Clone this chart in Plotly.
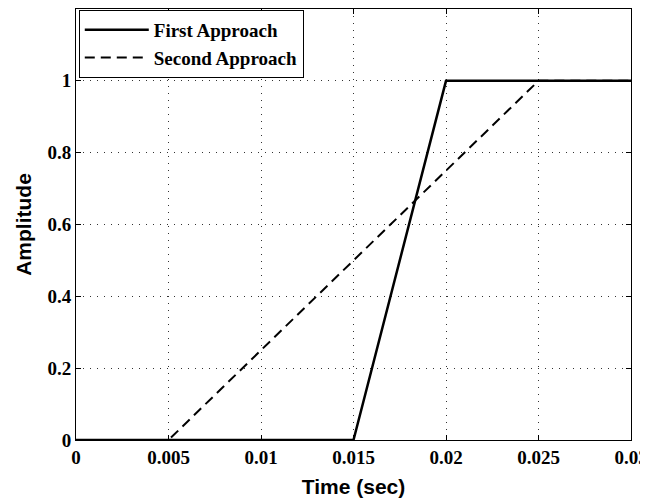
import plotly.graph_objects as go

first_x = [0, 0.015, 0.02, 0.03]
first_y = [0, 0, 1, 1]
second_x = [0, 0.005, 0.025, 0.03]
second_y = [0, 0, 1, 1]
xticks = [0, 0.005, 0.01, 0.015, 0.02, 0.025, 0.03]
xtick_labels = ["0", "0.005", "0.01", "0.015", "0.02", "0.025", "0.03"]
yticks = [0, 0.2, 0.4, 0.6, 0.8, 1]
ytick_labels = ["0", "0.2", "0.4", "0.6", "0.8", "1"]

fig = go.Figure()
fig.add_trace(go.Scatter(x=first_x, y=first_y, mode="lines", name="First Approach",
                         line=dict(color="black", width=2.5)))
fig.add_trace(go.Scatter(x=second_x, y=second_y, mode="lines", name="Second Approach",
                         line=dict(color="black", width=2, dash="10px,6px")))

tickfont = dict(family="Liberation Serif", size=19, color="black", weight="bold")
titlefont = dict(family="Liberation Sans", size=21, color="black", weight="bold")
fig.update_layout(
    width=648, height=500,
    margin=dict(l=68, r=25, t=1, b=68),
    plot_bgcolor="white", paper_bgcolor="white",
    showlegend=True,
    legend=dict(x=0.005, y=0.998, xanchor="left", yanchor="top",
                bgcolor="white", bordercolor="black", borderwidth=1,
                font=dict(family="Liberation Serif", size=19, color="black", weight="bold"),
                tracegroupgap=0, itemwidth=64),
    xaxis=dict(range=[0, 0.03], tickvals=xticks, ticktext=xtick_labels,
               showgrid=True, gridcolor="#333333", griddash="1px,6px", gridwidth=1,
               showline=True, linecolor="black", linewidth=1, mirror="ticks",
               ticks="inside", ticklen=5, tickcolor="black", tickfont=tickfont,
               zeroline=False, automargin=False,
               title=dict(text="Time (sec)", font=titlefont, standoff=12)),
    yaxis=dict(range=[0, 1.2], tickvals=yticks, ticktext=ytick_labels,
               showgrid=True, gridcolor="#333333", griddash="1px,6px", gridwidth=1,
               showline=True, linecolor="black", linewidth=1, mirror="ticks",
               ticks="inside", ticklen=5, tickcolor="black", tickfont=tickfont,
               zeroline=False, automargin=False,
               title=dict(text="Amplitude", font=titlefont, standoff=10)),
)

fig.write_html("out.html")
